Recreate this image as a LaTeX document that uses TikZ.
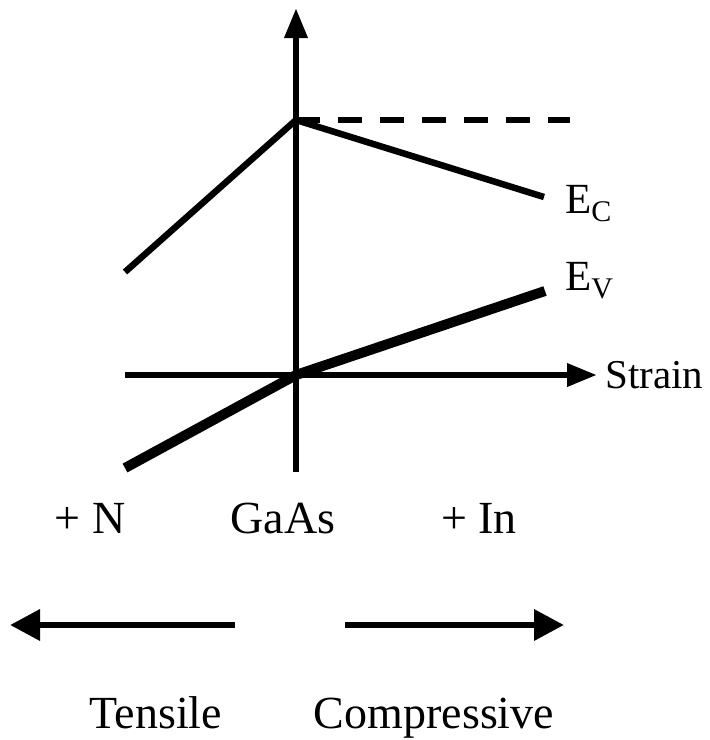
\documentclass[tikz,border=0pt]{standalone}
\usepackage{fontspec}
\setmainfont{Liberation Serif}
\usetikzlibrary{positioning,arrows.meta}
\tikzset{
  axis/.style  ={line width=6.5pt, -{Triangle[length=30pt,width=22pt]}},
  band/.style  ={line width=6.5pt, line join=miter},
  vband/.style ={line width=10pt},
  lbl/.style   ={font=\fontsize{46}{50}\selectfont, inner sep=0pt},
  elbl/.style  ={font=\fontsize{43}{46}\selectfont, inner sep=0pt, anchor=base west},
  dir/.style   ={line width=6.5pt, -{Triangle[length=30pt,width=30pt]}},
}
\newcommand{\bandsub}[1]{\raisebox{-0.2em}{\fontsize{30}{32}\selectfont #1}}
\begin{document}
\begin{tikzpicture}[x=1pt,y=-1pt]
\useasboundingbox (0,0) rectangle (710,740);
% axes
\coordinate (o) at (296,375);
\coordinate (ytop) at (296,8);
\coordinate (ybot) at (296,472);
\coordinate (xl) at (125,375);
\coordinate (xr) at (597,375);
\draw[axis] (ybot) -- (ytop);
\draw[axis] (xl) -- (xr);
\node[lbl, anchor=west, font=\fontsize{41}{44}\selectfont] (strain) at (605,375) {Strain};

% conduction band
\coordinate (ecl) at (125,272);
\coordinate (ec0) at (296,120);
\coordinate (ecr) at (544,197);
\coordinate (dsh) at (570,120);
\draw[band] (ecl) -- (ec0) -- (ecr);
\draw[line width=6.5pt, dash pattern=on 24pt off 18pt] (ec0) -- (dsh);
\node[elbl] (ec) at (565,213) {E\bandsub{C}};

% valence band
\coordinate (evl) at (125,468);
\coordinate (evr) at (545,291);
\draw[vband] (evl) -- (o) -- (evr);
\node[elbl] (ev) at (565,290) {E\bandsub{V}};

% compositions
\node[lbl, anchor=base] (n) at (90,533) {+ N};
\node[lbl, anchor=base] (gaas) at (283,533) {GaAs};
\node[lbl, anchor=base] (in) at (479,533) {+ In};

% strain direction
\coordinate (tl0) at (235,625);
\coordinate (tl1) at (10,625);
\coordinate (cr0) at (345,625);
\coordinate (cr1) at (564,625);
\draw[dir] (tl0) -- (tl1);
\draw[dir] (cr0) -- (cr1);
\node[lbl, anchor=base] (tens) at (156,728) {Tensile};
\node[lbl, anchor=base] (comp) at (434,728) {Compressive};
\end{tikzpicture}
\end{document}
